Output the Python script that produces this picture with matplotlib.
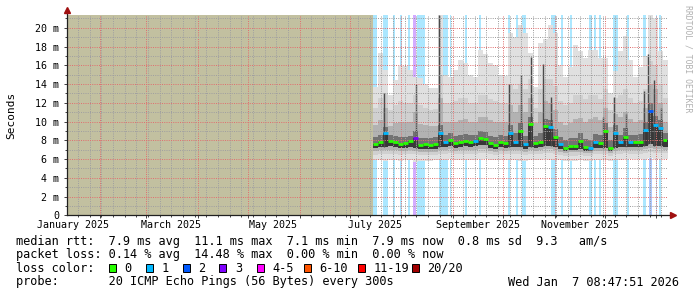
import numpy as np
import matplotlib.pyplot as plt
import matplotlib.dates as mdates
from matplotlib.patches import Rectangle
from matplotlib.ticker import MultipleLocator, FuncFormatter
from datetime import datetime, timedelta

# smokeping "last 360 days" graph
t_end = datetime(2026, 1, 7, 8, 47, 51)
t_start = t_end - timedelta(days=360)

data_start = datetime(2025, 7, 14, 18, 0)
step_days = 3

# median rtt per step (ms)
median = [7.6, 7.8, 8.8, 7.9, 7.8, 7.6, 7.7, 7.9, 8.2, 7.5,
          7.6, 7.55, 7.6, 8.8, 7.8, 8.0, 7.7, 7.8, 7.9, 7.8,
          7.9, 8.2, 8.1, 7.7, 7.5, 7.8, 7.7, 8.8, 7.8, 9.0,
          7.6, 9.7, 7.7, 7.8, 9.5, 9.4, 8.3, 7.6, 7.2, 7.4,
          7.4, 7.9, 7.3, 7.2, 7.8, 7.7, 9.0, 7.2, 8.8, 7.8,
          8.3, 7.8, 7.8, 7.8, 9.1, 11.1, 9.6, 9.3, 8.0]
# lost pings (of 20) per step
lost = [0, 0, 1, 0, 0, 0, 0, 0, 3, 0,
        0, 0, 0, 1, 1, 0, 0, 0, 0, 0,
        1, 0, 0, 0, 0, 0, 0, 1, 1, 0,
        1, 0, 0, 0, 0, 1, 0, 1, 0, 0,
        0, 0, 0, 1, 1, 0, 0, 0, 1, 1,
        0, 1, 0, 0, 1, 2, 1, 1, 0]

# smoke: spread of the 20 pings
ping_max = [13.7, 17.3, 15.5, 12.8, 14.4, 15.9, 15.9, 15.5, 14.8, 14.6,
            14.0, 13.6, 13.6, 21.4, 15.0, 14.8, 15.5, 16.6, 16.2, 15.0,
            14.8, 17.6, 17.2, 16.2, 16.0, 15.0, 14.9, 19.4, 19.0, 20.3,
            19.5, 17.3, 13.7, 18.4, 18.8, 20.3, 19.4, 16.0, 14.8, 15.8,
            18.2, 17.5, 16.8, 17.6, 17.6, 16.8, 16.8, 13.0, 15.4, 17.5,
            19.1, 16.6, 14.8, 15.8, 17.0, 21.4, 20.9, 17.5, 16.6]
ping_p90 = [11.5, 12.5, 13.0, 11.2, 11.8, 12.2, 12.0, 12.0, 12.8, 11.8,
            11.5, 11.2, 11.3, 15.0, 12.0, 12.0, 12.2, 12.5, 12.5, 12.0,
            12.0, 12.8, 12.8, 12.4, 12.2, 12.0, 12.0, 14.0, 13.5, 14.0,
            13.5, 14.5, 11.5, 13.5, 14.5, 14.5, 13.8, 12.2, 11.8, 12.0,
            12.8, 12.8, 12.4, 12.8, 12.8, 12.4, 13.5, 11.2, 12.5, 12.8,
            13.5, 12.5, 12.0, 12.2, 13.5, 16.5, 16.0, 14.0, 12.5]
ping_p75 = [9.6, 10.2, 11.5, 9.5, 9.8, 10.0, 9.9, 9.9, 11.0, 9.7,
            9.6, 9.5, 9.5, 12.5, 10.0, 10.0, 10.0, 10.2, 10.3, 10.0,
            10.0, 10.5, 10.5, 10.2, 10.0, 10.0, 10.0, 11.8, 11.0, 11.8,
            11.0, 12.5, 9.8, 11.0, 12.2, 12.0, 11.2, 10.0, 9.6, 9.8,
            10.3, 10.4, 10.0, 10.3, 10.5, 10.2, 11.5, 9.4, 10.8, 10.5,
            11.0, 10.3, 10.0, 10.2, 11.5, 14.0, 13.5, 12.0, 10.0]
ping_p60 = [8.4, 8.6, 9.4, 8.6, 8.5, 8.4, 8.4, 8.5, 9.0, 8.2,
            8.2, 8.2, 8.3, 9.6, 8.6, 8.8, 8.5, 8.6, 8.7, 8.6,
            8.6, 9.0, 8.9, 8.5, 8.3, 8.6, 8.5, 9.6, 8.8, 9.8,
            8.5, 10.5, 8.5, 8.8, 10.3, 10.2, 9.2, 8.4, 8.0, 8.2,
            8.2, 8.8, 8.1, 8.0, 8.7, 8.6, 9.8, 8.0, 9.6, 8.6,
            9.3, 8.6, 8.6, 8.7, 10.0, 12.0, 10.6, 10.2, 8.8]
ping_p40 = [7.15, 7.3, 7.3, 7.35, 7.3, 7.15, 7.2, 7.3, 7.2, 7.05,
            7.1, 7.1, 7.1, 7.3, 7.3, 7.4, 7.2, 7.3, 7.35, 7.3,
            7.35, 7.5, 7.45, 7.2, 7.05, 7.3, 7.2, 7.3, 7.3, 7.3,
            7.1, 7.3, 7.2, 7.3, 7.4, 7.4, 7.3, 7.1, 6.85, 6.95,
            6.95, 7.1, 6.9, 6.85, 7.2, 7.2, 7.2, 6.85, 7.2, 7.25,
            7.3, 7.25, 7.25, 7.25, 7.4, 7.6, 7.4, 7.4, 7.3]
ping_p25 = [6.85, 6.95, 6.95, 7.0, 6.95, 6.85, 6.9, 6.95, 6.9, 6.8,
            6.8, 6.8, 6.8, 6.95, 6.95, 7.05, 6.9, 6.95, 7.0, 6.95,
            7.0, 7.1, 7.1, 6.9, 6.8, 6.95, 6.9, 6.95, 6.95, 6.95,
            6.8, 6.95, 6.9, 6.95, 7.05, 7.05, 6.95, 6.8, 6.6, 6.7,
            6.7, 6.8, 6.65, 6.6, 6.9, 6.9, 6.9, 6.6, 6.9, 6.95,
            7.0, 6.95, 6.95, 6.95, 7.05, 7.2, 7.05, 7.05, 7.0]
ping_p10 = [6.45, 6.5, 6.5, 6.55, 6.5, 6.45, 6.5, 6.5, 6.5, 6.4,
            6.4, 6.4, 6.4, 6.5, 6.5, 6.6, 6.5, 6.5, 6.55, 6.5,
            6.55, 6.65, 6.65, 6.5, 6.4, 6.5, 6.5, 6.5, 6.5, 6.5,
            6.4, 6.5, 6.5, 6.5, 6.6, 6.6, 6.5, 6.4, 6.3, 6.35,
            6.35, 6.4, 6.3, 6.3, 6.5, 6.5, 6.5, 6.3, 6.5, 6.55,
            6.6, 6.55, 6.55, 6.55, 6.65, 6.7, 6.65, 6.65, 6.6]
ping_min = [5.9, 5.9, 5.8, 5.9, 5.9, 5.8, 5.9, 5.9, 5.7, 5.8,
            5.8, 5.8, 5.85, 5.9, 5.9, 6.0, 5.9, 5.9, 5.95, 5.9,
            5.95, 6.0, 6.0, 5.9, 5.85, 5.9, 5.9, 5.9, 5.9, 5.8,
            5.8, 5.9, 5.9, 5.9, 6.0, 5.95, 5.9, 5.85, 5.75, 5.8,
            5.8, 5.85, 5.8, 5.75, 5.9, 5.9, 5.9, 5.75, 5.9, 5.95,
            6.0, 6.0, 6.0, 6.0, 6.0, 6.1, 6.0, 6.0, 6.0]

# short latency spikes (days after data_start, peak ms)
spike_day = [6.8, 26.1, 39.9, 82.1, 89.0, 95.0, 102.0, 107.0, 138.0, 145.0, 152.0, 163.0, 165.5, 169.0, 173.0]
spike_top = [13.0, 14.0, 21.4, 14.0, 15.0, 16.9, 16.1, 12.6, 10.5, 12.6, 10.8, 13.3, 17.2, 14.4, 11.5]

# packet loss background bars (days after data_start, length in days, lost pings)
loss_bar_day = [0.4, 6.4, 12.0, 16.4, 21.3, 24.3, 26.4, 39.9, 46.3, 55.3, 63.9, 81.2, 85.9,
                89.9, 107.2, 113.2, 118.6, 129.8, 132.8, 135.8, 144.2, 152.8, 162.1, 165.7, 170.1, 172.1]
loss_bar_len = [2.0, 3.0, 1.4, 1.0, 1.0, 1.6, 5.0, 5.4, 1.0, 1.4, 1.0, 1.4, 1.4,
                2.0, 2.6, 1.0, 1.2, 2.0, 1.4, 1.4, 3.0, 1.0, 2.0, 2.0, 0.8, 0.8]
loss_bar_lost = [1, 1, 1, 1, 1, 3, 1, 1, 1, 1, 1, 1, 1,
                 1, 1, 1, 1, 1, 1, 1, 1, 1, 1, 2, 1, 1]

loss_keys = ['0', '1', '2', '3', '4-5', '6-10', '11-19', '20/20']
loss_cols = ['#26ff00', '#00b8ff', '#0059ff', '#7e00ff', '#ff00ff', '#ff5500', '#ff0000', '#a10000']

month_labels = ['January 2025', 'March 2025', 'May 2025', 'July 2025', 'September 2025', 'November 2025']
month_label_dates = [datetime(2025, m, 16) for m in (1, 3, 5, 7, 9, 11)]


def loss_color(n):
    if n <= 3:
        return loss_cols[n]
    if n <= 5:
        return loss_cols[4]
    if n <= 10:
        return loss_cols[5]
    if n <= 19:
        return loss_cols[6]
    return loss_cols[7]


plt.rcParams['font.family'] = 'DejaVu Sans Mono'
plt.rcParams['lines.scale_dashes'] = False

W, H = 697, 297
fig = plt.figure(figsize=(W / 100, H / 100), dpi=100)
ax = fig.add_axes([67 / W, (H - 215.3) / H, 600 / W, 200.6 / H])

n = len(median)
edges = mdates.date2num([data_start + timedelta(days=step_days * i) for i in range(n + 1)])


def ext(a):
    return np.append(a, a[-1])


# unknown data before monitoring started
ax.axvspan(mdates.date2num(t_start), edges[0], color='#c2c0a0', lw=0, zorder=0.5)

# loss background
d0 = mdates.date2num(data_start)
for d, l, c in zip(loss_bar_day, loss_bar_len, loss_bar_lost):
    ax.axvspan(d0 + d, d0 + d + l, color=loss_color(c), alpha=0.33, lw=0, zorder=0.6)

# smoke
ax.fill_between(edges, ext(ping_min), ext(ping_max), step='post', color='#e0e0e0', lw=0, zorder=1)
ax.fill_between(edges, ext(ping_p10), ext(ping_p90), step='post', color='#d0d0d0', lw=0, zorder=1.1)
ax.fill_between(edges, ext(ping_p25), ext(ping_p75), step='post', color='#b2b2b2', lw=0, zorder=1.2)
ax.fill_between(edges, ext(ping_p40), ext(ping_p60), step='post', color='#727272', lw=0, zorder=1.3)
ax.fill_between(edges, ext(ping_p40), ext(median), step='post', color='#383838', lw=0, zorder=1.35)

idx = (np.array(spike_day) // step_days).astype(int)
ax.vlines(d0 + np.array(spike_day), np.array(ping_p40)[idx], spike_top,
          colors='#4a4a4a', lw=1.0, zorder=1.4)

ax.set_xlim(mdates.date2num(t_start), mdates.date2num(t_end))
ax.set_ylim(0, 21.4)

# dotted grid on top of the smoke, like rrdtool
ax.set_axisbelow(False)
ax.xaxis.set_major_locator(mdates.MonthLocator())
ax.xaxis.set_minor_locator(mdates.WeekdayLocator(byweekday=mdates.SU))
ax.yaxis.set_major_locator(MultipleLocator(2))
ax.yaxis.set_minor_locator(MultipleLocator(1))
dots = (0, (0.72, 0.9))
ax.grid(which='minor', color='#a0a0a0', lw=0.72, linestyle=dots)
ax.grid(which='major', color='#e07070', lw=0.72, linestyle=dots)
ax.xaxis.set_major_formatter(FuncFormatter(lambda v, p: ''))
ax.yaxis.set_major_formatter(FuncFormatter(lambda v, p: '0' if v == 0 else '%d m' % v))
ax.tick_params(axis='both', which='both', direction='out', color='#404040', width=0.7)
ax.tick_params(axis='both', which='major', length=2)
ax.tick_params(axis='both', which='minor', length=1.5)
ax.tick_params(axis='y', labelsize=7.2, pad=3.5)
for s in ax.spines.values():
    s.set_visible(False)

# median line colored by loss
for i in range(n):
    ax.hlines(median[i], edges[i], edges[i + 1], colors=loss_color(lost[i]), lw=2.0, zorder=3)

# axes with arrows
ax.plot([0, 1.006], [0, 0], transform=ax.transAxes, clip_on=False, color='#202020', lw=0.9, zorder=5)
ax.plot([1.01], [0], transform=ax.transAxes, clip_on=False, marker='>', ms=4, color='#a01010', zorder=5)
ax.plot([0, 0], [0, 1.01], transform=ax.transAxes, clip_on=False, color='#202020', lw=0.9, zorder=5)
ax.plot([0], [1.025], transform=ax.transAxes, clip_on=False, marker='^', ms=4, color='#a01010', zorder=5)

for lab, d in zip(month_labels, month_label_dates):
    ax.text(mdates.date2num(d), -9.6 / 200.6, lab, transform=ax.get_xaxis_transform(),
            ha='center', va='center', fontsize=7.2)

fig.text(11 / W, 1 - 115 / H, 'Seconds', rotation=90, ha='center', va='center', fontsize=8)
fig.text(688 / W, 1 - 5 / H, 'RRDTOOL / TOBI OETIKER', rotation=270, ha='center', va='top',
         fontsize=5.9, color='#b0b0b0')

# legend
fs = 8.6
fig.text(16 / W, 1 - 241 / H, 'median rtt:  7.9 ms avg  11.1 ms max  7.1 ms min  7.9 ms now  0.8 ms sd  9.3   am/s',
         ha='left', va='center', fontsize=fs)
fig.text(16 / W, 1 - 254.7 / H, 'packet loss: 0.14 % avg  14.48 % max  0.00 % min  0.00 % now',
         ha='left', va='center', fontsize=fs)
fig.text(16 / W, 1 - 268.3 / H, 'loss color:', ha='left', va='center', fontsize=fs)
box_x = [109, 145.7, 182.7, 219.3, 256.7, 304, 357.7, 411.7]
for bx, key, col in zip(box_x, loss_keys, loss_cols):
    fig.patches.append(Rectangle((bx / W, 1 - 272.3 / H), 7 / W, 8 / H, transform=fig.transFigure,
                                 facecolor=col, edgecolor='black', lw=0.7))
    fig.text((bx + 15.5) / W, 1 - 268.3 / H, key, ha='left', va='center', fontsize=fs)
fig.text(16 / W, 1 - 282 / H, 'probe:       20 ICMP Echo Pings (56 Bytes) every 300s',
         ha='left', va='center', fontsize=fs)
fig.text(679 / W, 1 - 282 / H, 'Wed Jan  7 08:47:51 2026', ha='right', va='center', fontsize=fs)

fig.savefig('out.png', dpi=100)
